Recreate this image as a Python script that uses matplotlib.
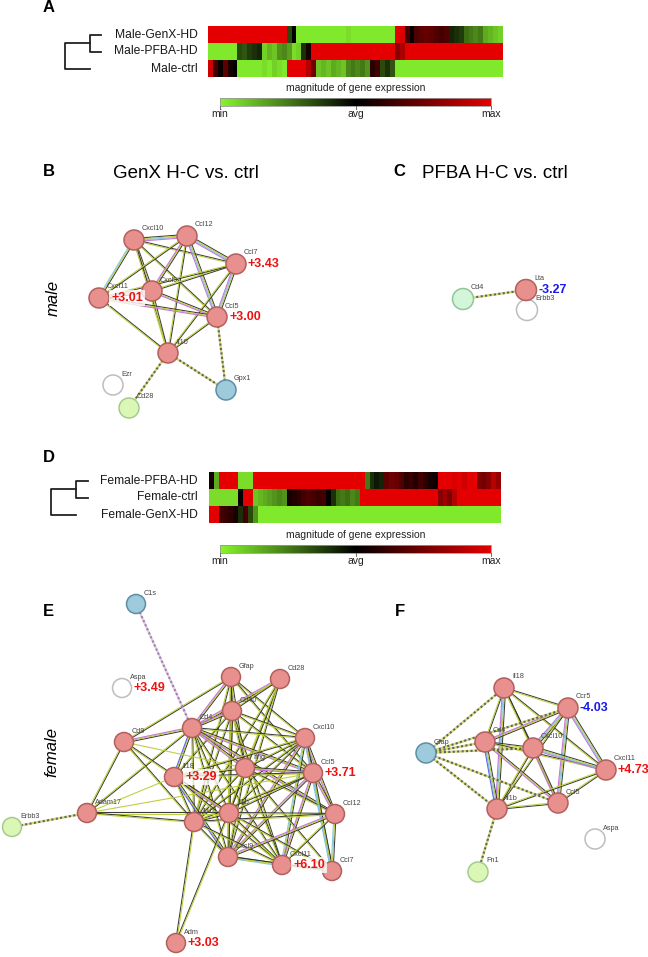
import numpy as np
import matplotlib
matplotlib.use('Agg')
import matplotlib.pyplot as plt
from matplotlib.colors import LinearSegmentedColormap
from matplotlib.patches import Circle

# ---------------- DATA ----------------
male_groups = ['Male-GenX-HD', 'Male-PFBA-HD', 'Male-ctrl']
male_genx = [1.0, 1.0, 1.0, 1.0, 1.0, 1.0, 1.0, 1.0, 1.0, 1.0, 1.0, 1.0, 1.0, 1.0, 1.0, 1.0,
             -0.3, 0.0,
             -0.95, -0.95, -0.95, -0.95, -0.95, -0.95, -0.95, -0.95, -0.95, -0.95,
             -0.9, -0.95, -0.95, -0.95, -0.95, -0.95, -0.95, -0.95, -0.95, -0.95,
             1.0, 0.95, 0.3, 0.05,
             0.35, 0.4, 0.45, 0.4, 0.35, 0.3, 0.35,
             -0.15, -0.2, -0.25, -0.45, -0.5, -0.55, -0.5, -0.7, -0.75, -0.8, -0.85]
male_pfba = [-0.95, -0.95, -0.95, -0.95, -0.95, -0.95,
             -0.3, -0.35, -0.25, -0.2, -0.15,
             -0.85, -0.75, -0.8, -0.6, -0.55, -0.65, -0.9, -0.85,
             -0.2, 0.1,
             1.0, 1.0, 1.0, 1.0, 1.0, 1.0, 1.0, 1.0, 1.0, 1.0, 1.0, 1.0, 1.0, 1.0, 1.0, 1.0, 1.0,
             0.6, 0.75,
             1.0, 1.0, 1.0, 1.0, 1.0, 1.0, 1.0, 1.0, 1.0, 1.0,
             1.0, 1.0, 1.0, 1.0, 1.0, 1.0, 1.0, 1.0, 1.0, 1.0]
male_ctrl = [0.9, 0.3, 0.05, 0.4, 0.1, 0.0,
             -0.95, -0.95, -0.95, -0.95, -0.95,
             -0.9, -0.95, -0.85, -0.9, -0.95,
             1.0, 1.0, 1.0, 1.0, 0.8, 0.5,
             -0.8, -0.75, -0.8, -0.7, -0.75, -0.8,
             -0.55, -0.5, -0.55, -0.5, -0.6,
             0.2, 0.3, -0.3, -0.2, -0.35,
             -0.95, -0.95, -0.95, -0.95, -0.95, -0.95, -0.95, -0.95, -0.95, -0.95, -0.95,
             -0.95, -0.95, -0.95, -0.95, -0.95, -0.95, -0.95, -0.95, -0.95, -0.95, -0.95]

female_groups = ['Female-PFBA-HD', 'Female-ctrl', 'Female-GenX-HD']
female_pfba = [0.1, -0.7, 1.0, 1.0, 1.0, 1.0, -0.9, -0.9, -0.9,
               1.0, 1.0, 1.0, 1.0, 1.0, 1.0, 1.0, 1.0, 1.0, 1.0, 1.0, 1.0,
               1.0, 1.0, 1.0, 1.0, 1.0, 1.0, 1.0, 1.0, 1.0, 1.0, 1.0,
               -0.5, -0.2, -0.1, -0.15,
               0.4, 0.5, 0.45, 0.35,
               0.2, 0.25, 0.15, 0.3, 0.2, 0.1, 0.05,
               1.0, 1.0, 1.0, 0.95, 1.0, 0.9, 1.0, 1.0,
               0.55, 0.5, 0.6, 0.8, 0.65]
female_ctrl = [-0.9, -0.9, -0.9, -0.9, -0.9, -0.9, 0.0, 1.0, 1.0,
               -0.8, -0.75, -0.7, -0.65, -0.6, -0.55, -0.6,
               0.1, 0.15, 0.2, 0.3, 0.35, 0.3, 0.25, 0.3,
               0.0, -0.2,
               -0.45, -0.5, -0.45, -0.55, -0.5,
               1.0, 1.0, 1.0, 1.0, 1.0, 1.0, 1.0, 1.0, 1.0, 1.0, 1.0, 1.0, 1.0, 1.0, 1.0, 1.0,
               0.6, 0.7, 0.55, 0.8,
               1.0, 1.0, 1.0, 1.0, 1.0, 1.0, 1.0, 1.0, 1.0]
female_genx = [1.0, 1.0, 0.3, 0.25, 0.2, 0.1, -0.2, 0.3, -0.3, -0.6,
               -0.95, -0.95, -0.95, -0.95, -0.95, -0.95, -0.95, -0.95, -0.95, -0.95,
               -0.95, -0.95, -0.95, -0.95, -0.95, -0.95, -0.95, -0.95, -0.95, -0.95,
               -0.95, -0.95, -0.95, -0.95, -0.95, -0.95, -0.95, -0.95, -0.95, -0.95,
               -0.95, -0.95, -0.95, -0.95, -0.95, -0.95, -0.95, -0.95, -0.95, -0.95,
               -0.95, -0.95, -0.95, -0.95, -0.95, -0.95, -0.95, -0.95, -0.95, -0.95]
scale_labels = ['min', 'avg', 'max']

# networks: node names, kinds (r=changed, b/g/m/w other), fold-change labels
B_names = ['Cxcl10', 'Ccl12', 'Ccl7', 'Cxcl9', 'Cxcl11', 'Ccl5', 'Il10', 'Ezr', 'Cd28', 'Gpx1']
B_kind = ['r', 'r', 'r', 'r', 'r', 'r', 'r', 'w', 'g', 'b']
B_fc = {'Ccl7': '+3.43', 'Cxcl11': '+3.01', 'Ccl5': '+3.00'}
B_edges = [('Cxcl10', 'Ccl12', 'kycm'), ('Cxcl10', 'Ccl7', 'ky'), ('Cxcl10', 'Cxcl9', 'kym'),
           ('Cxcl10', 'Cxcl11', 'kyc'), ('Cxcl10', 'Ccl5', 'ky'), ('Cxcl10', 'Il10', 'ky'),
           ('Ccl12', 'Ccl7', 'kycm'), ('Ccl12', 'Cxcl9', 'kym'), ('Ccl12', 'Cxcl11', 'ky'),
           ('Ccl12', 'Ccl5', 'kycm'), ('Ccl12', 'Il10', 'ky'), ('Ccl7', 'Cxcl9', 'ky'),
           ('Ccl7', 'Cxcl11', 'ky'), ('Ccl7', 'Ccl5', 'kycm'), ('Ccl7', 'Il10', 'ky'),
           ('Cxcl9', 'Cxcl11', 'kym'), ('Cxcl9', 'Ccl5', 'kym'), ('Cxcl9', 'Il10', 'ky'),
           ('Cxcl11', 'Ccl5', 'kym'), ('Cxcl11', 'Il10', 'ky'), ('Ccl5', 'Il10', 'ky')]
B_dotted = [('Il10', 'Cd28'), ('Il10', 'Gpx1'), ('Ccl5', 'Gpx1')]

C_names = ['Erbb3', 'Cd4', 'Lta']
C_kind = ['w', 'm', 'r']
C_fc = {'Lta': '-3.27'}
C_dotted = [('Cd4', 'Lta')]

E_names = ['Aspa', 'Gfap', 'Cd28', 'Cd40', 'Cd4', 'Cd9', 'Cxcl10', 'Ifng', 'Il18', 'Ccl5',
           'Adam17', 'Il1b', 'Il10', 'Ccl12', 'Cxcl9', 'Cxcl11', 'Ccl7', 'Adm', 'Erbb3', 'C1s']
E_kind = ['w', 'r', 'r', 'r', 'r', 'r', 'r', 'r', 'r', 'r',
          'r', 'r', 'r', 'r', 'r', 'r', 'r', 'r', 'g', 'b']
E_fc = {'Aspa': '+3.49', 'Il18': '+3.29', 'Ccl5': '+3.71', 'Cxcl11': '+6.10', 'Adm': '+3.03'}
E_edges = [('Gfap', 'Cd9', 'ky'), ('Gfap', 'Cd4', 'kym'), ('Gfap', 'Cd40', 'ky'), ('Gfap', 'Il1b', 'ky'),
           ('Gfap', 'Il10', 'ky'), ('Gfap', 'Ifng', 'ky'), ('Gfap', 'Cxcl10', 'ky'), ('Gfap', 'Ccl5', 'ky'),
           ('Gfap', 'Cxcl9', 'ky'), ('Cd28', 'Cd4', 'kym'), ('Cd28', 'Cd40', 'ky'), ('Cd28', 'Ifng', 'ky'),
           ('Cd28', 'Il10', 'ky'), ('Cd28', 'Il1b', 'ky'), ('Cd28', 'Cxcl9', 'ky'),
           ('Cd40', 'Cd4', 'kym'), ('Cd40', 'Ifng', 'ky'), ('Cd40', 'Il10', 'ky'), ('Cd40', 'Il1b', 'ky'),
           ('Cd40', 'Il18', 'ky'), ('Cd40', 'Cxcl10', 'ky'), ('Cd40', 'Ccl5', 'ky'), ('Cd40', 'Cxcl9', 'ky'),
           ('Cd40', 'Cxcl11', 'ky'), ('Cd4', 'Cd9', 'kym'), ('Cd4', 'Ifng', 'kym'), ('Cd4', 'Il18', 'kyb'),
           ('Cd4', 'Il10', 'ky'), ('Cd4', 'Il1b', 'ky'), ('Cd4', 'Ccl5', 'kym'), ('Cd4', 'Cxcl10', 'ky'),
           ('Cd4', 'Cxcl9', 'ky'), ('Cd4', 'Cxcl11', 'ky'), ('Cd4', 'Ccl12', 'kym'), ('Cd4', 'Adam17', 'ky'),
           ('Cd9', 'Adam17', 'ky'), ('Cd9', 'Il10', 'ky'), ('Cd9', 'Il1b', 'ky'), ('Cd9', 'Ifng', 'y'),
           ('Cxcl10', 'Ifng', 'ky'), ('Cxcl10', 'Il18', 'ky'), ('Cxcl10', 'Il1b', 'ky'), ('Cxcl10', 'Il10', 'ky'),
           ('Cxcl10', 'Ccl5', 'kym'), ('Cxcl10', 'Ccl12', 'kym'), ('Cxcl10', 'Ccl7', 'kyc'),
           ('Cxcl10', 'Cxcl9', 'kym'), ('Cxcl10', 'Cxcl11', 'kyc'), ('Ifng', 'Il18', 'ky'),
           ('Ifng', 'Il1b', 'ky'), ('Ifng', 'Il10', 'ky'), ('Ifng', 'Ccl5', 'kym'), ('Ifng', 'Ccl12', 'ky'),
           ('Ifng', 'Cxcl9', 'ky'), ('Ifng', 'Cxcl11', 'ky'), ('Ifng', 'Ccl7', 'ky'),
           ('Il18', 'Il1b', 'kym'), ('Il18', 'Il10', 'ky'), ('Il18', 'Ccl5', 'ky'), ('Il18', 'Cxcl9', 'kyb'),
           ('Il18', 'Cxcl11', 'ky'), ('Il18', 'Adam17', 'y'), ('Ccl5', 'Il1b', 'ky'), ('Ccl5', 'Il10', 'ky'),
           ('Ccl5', 'Ccl12', 'kym'), ('Ccl5', 'Ccl7', 'kyc'), ('Ccl5', 'Cxcl9', 'kym'), ('Ccl5', 'Cxcl11', 'kym'),
           ('Adam17', 'Il1b', 'ky'), ('Adam17', 'Il10', 'ky'), ('Adam17', 'Ccl5', 'y'),
           ('Il1b', 'Il10', 'ky'), ('Il1b', 'Ccl12', 'ky'), ('Il1b', 'Cxcl9', 'ky'), ('Il1b', 'Cxcl11', 'ky'),
           ('Il1b', 'Ccl7', 'ky'), ('Il10', 'Ccl12', 'ky'), ('Il10', 'Cxcl9', 'ky'), ('Il10', 'Cxcl11', 'ky'),
           ('Ccl12', 'Ccl7', 'kyc'), ('Ccl12', 'Cxcl9', 'kym'), ('Ccl12', 'Cxcl11', 'ky'),
           ('Cxcl9', 'Cxcl11', 'kyc'), ('Cxcl9', 'Ccl7', 'ky'), ('Cxcl11', 'Ccl7', 'ky'),
           ('Adm', 'Il10', 'ky'), ('Adm', 'Il1b', 'ky')]
E_dotted = [('Erbb3', 'Adam17', 'y'), ('C1s', 'Cd4', 'p')]

F_names = ['Il18', 'Ccr5', 'Cd4', 'Cxcl10', 'Gfap', 'Cxcl11', 'Ccl5', 'Il1b', 'Aspa', 'Fn1']
F_kind = ['r', 'r', 'r', 'r', 'b', 'r', 'r', 'r', 'w', 'g']
F_fc = {'Ccr5': '-4.03', 'Cxcl11': '+4.73'}
F_edges = [('Il18', 'Ccr5', 'ky'), ('Il18', 'Cd4', 'ky'), ('Il18', 'Cxcl10', 'ky'), ('Il18', 'Cxcl11', 'ky'),
           ('Il18', 'Ccl5', 'ky'), ('Il18', 'Il1b', 'kycm'), ('Ccr5', 'Cd4', 'kym'), ('Ccr5', 'Cxcl10', 'kycm'),
           ('Ccr5', 'Cxcl11', 'kycm'), ('Ccr5', 'Ccl5', 'kycm'), ('Ccr5', 'Il1b', 'ky'),
           ('Cd4', 'Cxcl10', 'ky'), ('Cd4', 'Cxcl11', 'ky'), ('Cd4', 'Ccl5', 'kym'), ('Cd4', 'Il1b', 'kycb'),
           ('Cxcl10', 'Cxcl11', 'kycm'), ('Cxcl10', 'Ccl5', 'kym'), ('Cxcl10', 'Il1b', 'ky'),
           ('Cxcl11', 'Ccl5', 'ky'), ('Cxcl11', 'Il1b', 'ky'), ('Ccl5', 'Il1b', 'ky')]
F_dotted = [('Gfap', 'Il18', 'y'), ('Gfap', 'Cd4', 'y'), ('Gfap', 'Cxcl10', 'y'), ('Gfap', 'Ccr5', 'y'),
            ('Gfap', 'Il1b', 'y'), ('Gfap', 'Ccl5', 'y'), ('Il1b', 'Fn1', 'y')]

# ---------------- LAYOUT (pixel positions) ----------------
B_x = [134, 187, 236, 152, 99, 217, 168, 113, 129, 226]
B_y = [240, 236, 264, 291, 298, 317, 353, 385, 408, 390]
C_x = [527, 463, 526]
C_y = [310, 299, 290]
E_x = [122, 231, 280, 232, 192, 124, 305, 245, 174, 313, 87, 229, 194, 335, 228, 282, 332, 176, 12, 136]
E_y = [688, 677, 679, 711, 728, 742, 738, 768, 777, 773, 813, 813, 822, 814, 857, 865, 871, 943, 827, 604]
F_x = [504, 568, 485, 533, 426, 606, 558, 497, 595, 478]
F_y = [688, 708, 742, 748, 753, 770, 803, 809, 839, 872]

NODE_STYLE = {'r': ('#e8908e', '#b25f5d'), 'b': ('#9dcbdc', '#5e8ea2'), 'g': ('#dbf7b6', '#a8c98e'),
              'm': ('#d3f5da', '#8fc79b'), 'w': ('#ffffff', '#bdbdbd')}
CH = {'k': '#333333', 'y': '#bccd3a', 'm': '#c46fd8', 'c': '#80c8e4', 'b': '#4f60e6'}

fig = plt.figure(figsize=(6.48, 9.57), dpi=100)
ax = fig.add_axes([0, 0, 1, 1])
ax.set_xlim(0, 648)
ax.set_ylim(957, 0)
ax.axis('off')

cmap = LinearSegmentedColormap.from_list('gbr', ['#88f52e', '#000000', '#e40000'])
FONT = 'Liberation Sans'


def heat_panel(rows, labels, x0, x1, y0, y1, cb_y, dendro):
    ax.imshow(np.array(rows), cmap=cmap, vmin=-1, vmax=1, extent=(x0, x1, y1, y0),
              aspect='auto', interpolation='nearest', zorder=1)
    h = (y1 - y0) / len(rows)
    cents = [y0 + h * (i + 0.5) for i in range(len(rows))]
    for lab, yc in zip(labels, cents):
        ax.text(198, yc, lab, ha='right', va='center', fontsize=8.7, family=FONT, color='#1a1a1a')
    xi, xt, xo = dendro
    ax.plot([xt, xi, xi, xt], [cents[0], cents[0], cents[1], cents[1]], color='#222', lw=1.3)
    mid = (cents[0] + cents[1]) / 2
    ax.plot([xi, xo, xo, xi], [mid, mid, cents[2], cents[2]], color='#222', lw=1.3)
    cx0, cx1 = 220, 491
    grad = np.linspace(-1, 1, 256)[None, :]
    ax.imshow(grad, cmap=cmap, vmin=-1, vmax=1, extent=(cx0, cx1, cb_y + 8, cb_y),
              aspect='auto', zorder=1)
    ax.plot([cx0, cx1, cx1, cx0, cx0], [cb_y, cb_y, cb_y + 8, cb_y + 8, cb_y], color='#999', lw=0.6)
    ax.text((cx0 + cx1) / 2, cb_y - 10, 'magnitude of gene expression', ha='center', va='center',
            fontsize=7.5, family=FONT, color='#222')
    for lab, xx in zip(scale_labels, [cx0, (cx0 + cx1) / 2, cx1]):
        ax.plot([xx, xx], [cb_y + 8, cb_y + 11], color='#555', lw=0.6)
        ax.text(xx, cb_y + 16, lab, ha='center', va='center', fontsize=7.5, family=FONT, color='#222')


heat_panel([male_genx, male_pfba, male_ctrl], male_groups, 208, 503, 26, 77, 98, (90, 101, 65))
heat_panel([female_pfba, female_ctrl, female_genx], female_groups, 209, 501, 472, 523, 545, (76, 88, 51))


def draw_edge(p, q, chans, lw=0.8, sp=1.05):
    (x1, y1), (x2, y2) = p, q
    dx, dy = x2 - x1, y2 - y1
    L = np.hypot(dx, dy)
    nx, ny = -dy / L, dx / L
    n = len(chans)
    for i, c in enumerate(chans):
        o = (i - (n - 1) / 2) * sp
        ax.plot([x1 + nx * o, x2 + nx * o], [y1 + ny * o, y2 + ny * o], color=CH[c], lw=lw,
                solid_capstyle='butt', zorder=2, alpha=0.95)


def draw_dotted(p, q, kind='y'):
    if kind == 'p':
        col, gap = '#9a7fb0', '#e7c9e6'
    else:
        col, gap = '#66664a', '#d4dc6a'
    ax.plot([p[0], q[0]], [p[1], q[1]], ls=(0, (1, 1)), lw=1.6, color=col, gapcolor=gap, zorder=2)


def network(names, kinds, xs, ys, edges, dotted, fc, r=10, boxed=()):
    pos = {n: (x, y) for n, x, y in zip(names, xs, ys)}
    for a, b, ch in edges:
        draw_edge(pos[a], pos[b], ch)
    for d in dotted:
        draw_dotted(pos[d[0]], pos[d[1]], d[2] if len(d) > 2 else 'y')
    for n, k in zip(names, kinds):
        face, edge = NODE_STYLE[k]
        ax.add_patch(Circle(pos[n], r, facecolor=face, edgecolor=edge, lw=1.1, zorder=3))
        ax.text(pos[n][0] + 8, pos[n][1] - r - 1, n, fontsize=5.2, family=FONT, color='#444',
                ha='left', va='center', zorder=4)
    for n, s in fc.items():
        col = '#1a1aee' if s.startswith('-') else '#ee1111'
        kw = {}
        if n in boxed:
            kw['bbox'] = dict(facecolor='white', edgecolor='none', alpha=0.8, pad=1.5)
        ax.text(pos[n][0] + r + 2, pos[n][1], s, fontsize=9, fontweight='bold', family=FONT,
                color=col, ha='left', va='center', zorder=5, **kw)


network(B_names, B_kind, B_x, B_y, B_edges, B_dotted, B_fc, boxed=('Cxcl11',))
network(C_names, C_kind, C_x, C_y, [], C_dotted, C_fc, r=10.5)
network(E_names, E_kind, E_x, E_y, E_edges, E_dotted, E_fc, r=9.5, boxed=('Il18', 'Cxcl11'))
network(F_names, F_kind, F_x, F_y, F_edges, F_dotted, F_fc)

# panel letters and titles
for let, x, y in [('A', 43, 8), ('B', 43, 171), ('C', 393, 171), ('D', 43, 457), ('E', 43, 612), ('F', 395, 612)]:
    ax.text(x, y, let, fontsize=12, fontweight='bold', family=FONT, ha='left', va='center')
ax.text(186, 173, 'GenX H-C vs. ctrl', fontsize=13.5, family=FONT, ha='center', va='center')
ax.text(495, 173, 'PFBA H-C vs. ctrl', fontsize=13.5, family=FONT, ha='center', va='center')
ax.text(53, 298, 'male', fontsize=12, style='italic', family=FONT, rotation=90, ha='center', va='center')
ax.text(52, 752, 'female', fontsize=12, style='italic', family=FONT, rotation=90, ha='center', va='center')

fig.savefig('out.png', dpi=100, facecolor='white')
